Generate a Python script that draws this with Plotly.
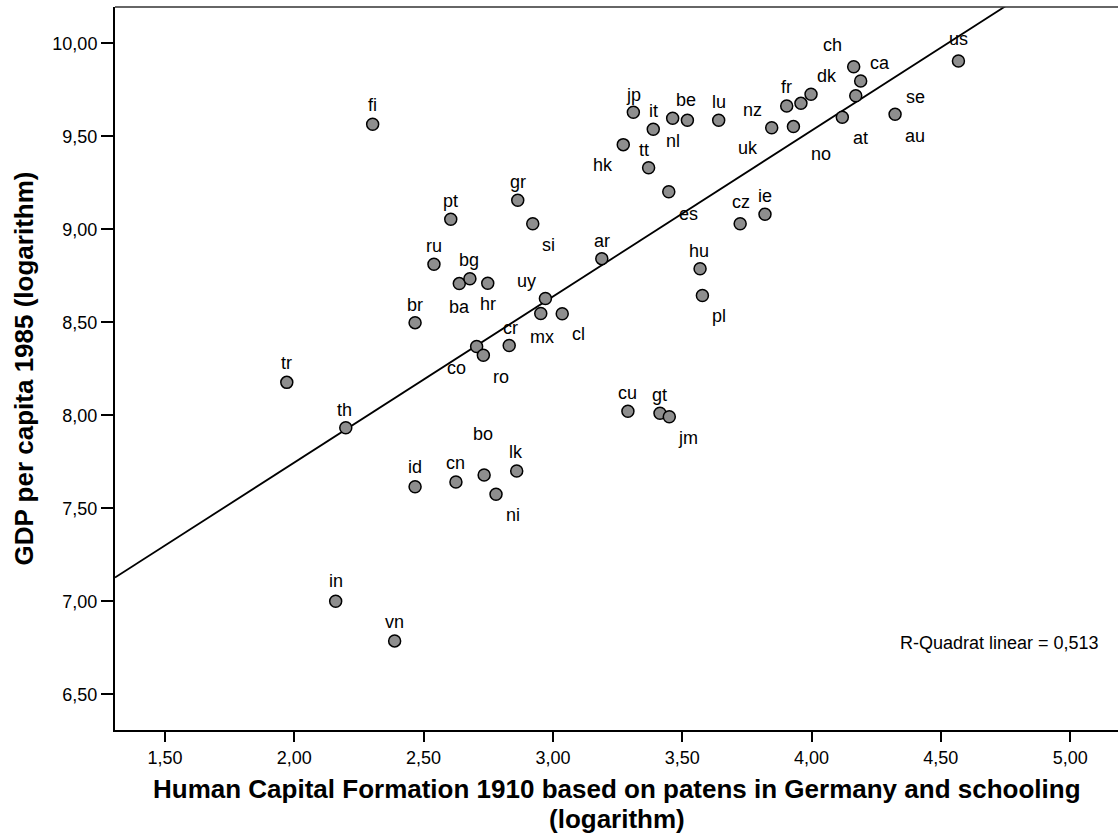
import numpy as np
import plotly.graph_objects as go

# ---------------- data ----------------
countries = ["fi", "jp", "it", "nl", "be", "lu", "hk", "tt", "es", "gr",
             "pt", "si", "ar", "ru", "cz", "ie", "hu", "pl", "ba", "bg",
             "hr", "uy", "br", "co", "ro", "cr", "mx", "cl", "cu", "gt",
             "jm", "id", "cn", "bo", "lk", "ni", "tr", "th", "in", "vn",
             "us", "ch", "ca", "au", "dk", "uk", "fr", "nz", "no", "at", "se"]
human_capital_1910 = [2.303, 3.311, 3.388, 3.463, 3.520, 3.641, 3.272, 3.370, 3.448, 2.864,
                      2.605, 2.922, 3.189, 2.540, 3.724, 3.820, 3.569, 3.578, 2.638, 2.679,
                      2.748, 2.971, 2.467, 2.705, 2.731, 2.831, 2.953, 3.036, 3.290, 3.414,
                      3.450, 2.467, 2.625, 2.734, 2.860, 2.780, 1.971, 2.199, 2.160, 2.388,
                      4.568, 4.163, 4.190, 4.171, 3.998, 3.959, 3.904, 3.846, 3.930, 4.119, 4.323]
gdp_1985_log = [9.565, 9.629, 9.538, 9.597, 9.586, 9.586, 9.455, 9.331, 9.202, 9.156,
                9.054, 9.030, 8.842, 8.812, 9.030, 9.081, 8.788, 8.644, 8.708, 8.734,
                8.710, 8.628, 8.498, 8.370, 8.323, 8.375, 8.547, 8.546, 8.022, 8.011,
                7.992, 7.616, 7.641, 7.679, 7.700, 7.575, 8.177, 7.933, 7.000, 6.787,
                9.905, 9.874, 9.797, 9.718, 9.726, 9.677, 9.663, 9.546, 9.552, 9.602, 9.618]
r_squared_text = "R-Quadrat linear = 0,513"

x_ticks = [1.5, 2.0, 2.5, 3.0, 3.5, 4.0, 4.5, 5.0]
x_tick_labels = ["1,50", "2,00", "2,50", "3,00", "3,50", "4,00", "4,50", "5,00"]
y_ticks = [6.5, 7.0, 7.5, 8.0, 8.5, 9.0, 9.5, 10.0]
y_tick_labels = ["6,50", "7,00", "7,50", "8,00", "8,50", "9,00", "9,50", "10,00"]

x_title_1 = "Human Capital Formation 1910 based on patens in Germany and schooling"
x_title_2 = "(logarithm)"
y_title = "GDP per capita 1985 (logarithm)"

# ---------------- label placement (pixel offsets, style only) ----------------
label_offsets = {
    "fi": (0, -19), "jp": (0, -17), "it": (0, -18), "nl": (0, 23), "be": (-1, -20),
    "lu": (0, -18), "hk": (-20, 20), "tt": (-5, -18), "es": (20, 22), "gr": (0, -18),
    "pt": (0, -18), "si": (16, 21), "ar": (0, -18), "ru": (0, -18), "cz": (1, -22),
    "ie": (0, -18), "hu": (-1, -18), "pl": (17, 21), "ba": (0, 23), "bg": (-1, -19),
    "hr": (0, 21), "uy": (-19, -17), "br": (0, -18), "co": (-20, 22), "ro": (18, 22),
    "cr": (1, -18), "mx": (1, 23), "cl": (16, 20), "cu": (0, -18), "gt": (0, -18),
    "jm": (19, 21), "id": (0, -20), "cn": (0, -19), "bo": (-1, -41), "lk": (-1, -19),
    "ni": (17, 21), "tr": (0, -19), "th": (-1, -18), "in": (0, -20), "vn": (0, -19),
    "us": (0, -22), "ch": (-21, -22), "ca": (19, -18), "au": (59, 40), "dk": (16, -18),
    "uk": (-53, 45), "fr": (0, -19), "nz": (-19, -18), "no": (28, 27), "at": (18, 21),
    "se": (20, -17),
}

FONT = "Liberation Sans, Arial, Helvetica, sans-serif"
W, H = 1118, 836
M_L, M_R, M_T, M_B = 115, 0, 7, 106
X_RANGE = [1.3067, 5.185]
Y_RANGE = [6.308, 10.195]

xs = np.array(human_capital_1910)
ys = np.array(gdp_1985_log)
slope, intercept = np.polyfit(xs, ys, 1)
line_x = np.array(X_RANGE)
line_y = intercept + slope * line_x

fig = go.Figure()
fig.add_trace(go.Scatter(x=line_x, y=line_y, mode="lines",
                         line=dict(color="black", width=1.8), hoverinfo="skip",
                         showlegend=False))
fig.add_trace(go.Scatter(x=xs, y=ys, mode="markers", text=countries,
                         marker=dict(size=12, color="#8e8e8e",
                                     line=dict(color="black", width=1.5)),
                         showlegend=False))

annotations = []
for c, xv, yv in zip(countries, human_capital_1910, gdp_1985_log):
    dx, dy = label_offsets[c]
    annotations.append(dict(x=xv, y=yv, xref="x", yref="y", text=c, showarrow=False,
                            xanchor="center", yanchor="middle", xshift=dx, yshift=-dy,
                            font=dict(family=FONT, size=18, color="black")))

plot_h = H - M_T - M_B
plot_w = W - M_L - M_R

def py_to_paper(py):
    return (H - M_B - py) / plot_h

def px_to_paper(px):
    return (px - M_L) / plot_w

annotations.append(dict(x=px_to_paper(1101), y=py_to_paper(643), xref="paper", yref="paper",
                        text=r_squared_text, showarrow=False, xanchor="right", yanchor="middle",
                        font=dict(family=FONT, size=18, color="black")))
annotations.append(dict(x=0.5, y=py_to_paper(789), xref="paper", yref="paper",
                        text="<b>" + x_title_1 + "</b>", showarrow=False, borderpad=0,
                        xanchor="center", yanchor="middle",
                        font=dict(family=FONT, size=26, color="black")))
annotations.append(dict(x=0.5, y=py_to_paper(819), xref="paper", yref="paper",
                        text="<b>" + x_title_2 + "</b>", showarrow=False, borderpad=0,
                        xanchor="center", yanchor="middle",
                        font=dict(family=FONT, size=26, color="black")))
annotations.append(dict(x=px_to_paper(23), y=0.5, xref="paper", yref="paper",
                        text="<b>" + y_title + "</b>", showarrow=False, textangle=-90,
                        xanchor="center", yanchor="middle",
                        font=dict(family=FONT, size=26, color="black")))

fig.update_layout(
    width=W, height=H,
    margin=dict(l=M_L, r=M_R, t=M_T, b=M_B, pad=0),
    paper_bgcolor="white", plot_bgcolor="white",
    annotations=annotations,
    shapes=[dict(type="line", xref="paper", yref="paper", x0=0, x1=1, y0=1, y1=1,
                 line=dict(color="#333333", width=1.3))],
    font=dict(family=FONT, size=18, color="black"),
)
fig.update_xaxes(range=X_RANGE, tickvals=x_ticks, ticktext=x_tick_labels,
                 showgrid=False, zeroline=False, showline=True, linecolor="black",
                 linewidth=2, ticks="outside", ticklen=10, tickwidth=2, tickcolor="black",
                 tickfont=dict(family=FONT, size=18, color="black"))
fig.update_yaxes(range=Y_RANGE, tickvals=y_ticks, ticktext=y_tick_labels,
                 showgrid=False, zeroline=False, showline=True, linecolor="black",
                 linewidth=2, ticks="outside", ticklen=12, tickwidth=2, tickcolor="black",
                 tickfont=dict(family=FONT, size=18, color="black"))

fig.write_html("out.html")
